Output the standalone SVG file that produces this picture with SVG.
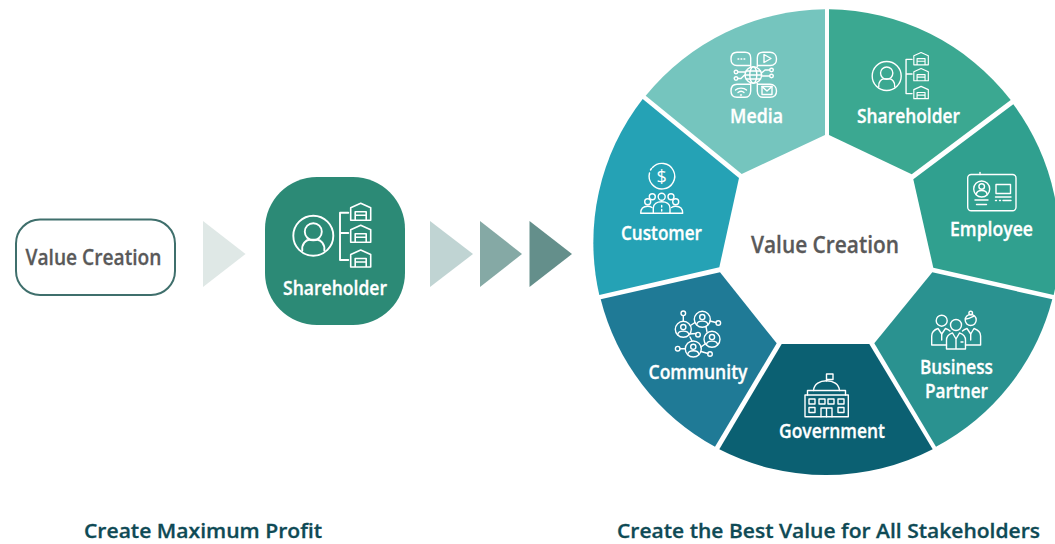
<svg xmlns="http://www.w3.org/2000/svg" width="1055" height="544" viewBox="0 0 1055 544">
<style>
text{font-family:"Open Sans","Noto Sans","Liberation Sans",sans-serif;font-weight:600;text-anchor:middle;stroke-width:.3}
.w{fill:#fff;stroke:#fff;font-size:19px}
.d{fill:#595959;stroke:#595959;font-size:22px}
.b{fill:#0e4a55;stroke:#0e4a55;font-size:20.400px}
.i{fill:none;stroke:#fff;stroke-width:1.900;stroke-linejoin:round;stroke-linecap:round}
.th{stroke-width:1.400}
</style>
<defs>
<symbol id="wh" overflow="visible"><path stroke-width="1.600" d="M0,4.500L10,0L20,4.500V17H0ZM4.500,17V8.500H15.500V17M4.500,12H15.500"/></symbol>
<g id="holder">
<circle cx="0" cy="0" r="20"/><circle cx="0" cy="-4" r="8.500"/>
<path d="M-11,15C-12,8-7,4-4,4H4C7,4 12,8 11,15"/>
<path d="M35,-23H26.700V24.300H35M26.700,-2.700H35"/>
<use href="#wh" x="37.400" y="-32.400"/><use href="#wh" x="37.400" y="-10.400"/><use href="#wh" x="37.400" y="14.300"/>
</g>
<g id="cp"><circle r="8"/><circle cy="-2.200" r="2.600"/><path d="M-5.500,5.500C-5.500,2.500-3,1.800 0,1.800C3,1.800 5.500,2.500 5.500,5.500"/></g>
</defs>

<g id="connectors">
<path d="M203,221L245.500,254L203,287Z" fill="#dfe8e6"/>
<path d="M430,221L473,254L430,287Z" fill="#c0d4d3"/>
<path d="M480,221L522,254L480,287Z" fill="#85a9a5"/>
<path d="M529.500,221L572,254L529.500,287Z" fill="#648f8b"/>
</g>

<g id="node-value-creation">
<rect x="16" y="219.500" width="159" height="75.500" rx="24" fill="#fff" stroke="#3f6f6c" stroke-width="2"/>
<text class="d" x="93.500" y="265" textLength="136" lengthAdjust="spacingAndGlyphs">Value Creation</text>
</g>

<g id="node-shareholder-left">
<rect x="265" y="177" width="140" height="148" rx="52" fill="#2c8a76"/>
<use href="#holder" class="i" transform="translate(313.300,235.700)"/>
<text class="w" x="335" y="294.500" textLength="104" lengthAdjust="spacingAndGlyphs">Shareholder</text>
</g>

<g id="node-wheel-shareholder">
<path d="M829,9.300A233.500,233.500 0 0 1 1010.700,100L911.700,174.300L829,135Z" fill="#3ba891"/>
<use href="#holder" class="i" transform="translate(886.700,76) scale(.725)"/>
<text class="w" x="908.500" y="122.500" textLength="103" lengthAdjust="spacingAndGlyphs">Shareholder</text>
</g>

<g id="node-employee">
<path d="M1013.300,104.300A233.500,233.500 0 0 1 1053.700,295L933.300,267.700L913.300,179.300Z" fill="#30a08f"/>
<g class="i th">
<rect x="967.700" y="174.500" width="48.300" height="36.200" rx="3.500"/>
<path d="M980,172.500V174.500"/>
<circle cx="981.700" cy="189" r="8"/><circle cx="981.700" cy="186.500" r="2.800"/>
<path d="M976.300,194.500C976.500,191.500 979,190.500 981.700,190.500C984.400,190.500 986.900,191.500 987.100,194.500"/>
<path d="M975,200H988M976.500,204.500H986.500"/>
<rect x="996" y="184.500" width="14.500" height="9"/>
<path d="M995.500,197H1011M995.500,200.500H996.500M999.500,200.500H1000.500M1003,200.500H1011"/>
</g>
<text class="w" x="991.500" y="235.500" textLength="83" lengthAdjust="spacingAndGlyphs">Employee</text>
</g>

<g id="node-business-partner">
<path d="M932.300,272.300L1052.300,299.300A233.500,233.500 0 0 1 936,446.700L874.300,343.300Z" fill="#2a9290"/>
<g class="i th">
<circle cx="941.700" cy="320.700" r="5.500"/><circle cx="956" cy="325" r="5.500"/><circle cx="970.700" cy="320" r="5.500"/><circle cx="970.700" cy="313" r="1.800"/>
<path d="M966,319C969,319 972,317 974,316"/>
<path d="M946.500,345H931.700V336C931.700,331 935,329.500 938,328.500L941.700,334L945.500,328.500C947,329 948.500,329.500 950,331"/>
<path d="M946.500,349V340C946.500,335 950,334 952.500,333L956,339L959.500,333C962,334 965.500,335 965.500,340V349ZM956,339V349M961,342H963"/>
<path d="M965.500,345H980.600V336C980.600,331 977,329.500 974,328.500L970.700,334L967,328.500C965.500,329 964,329.500 962.500,331"/>
<path d="M941.700,334V340M970.700,334V340"/>
</g>
<text class="w" x="956.500" y="374" textLength="73" lengthAdjust="spacingAndGlyphs">Business</text>
<text class="w" x="956.500" y="398" textLength="63" lengthAdjust="spacingAndGlyphs">Partner</text>
</g>

<g id="node-government">
<path d="M781.700,344H869.300L932.700,449.300A233.500,233.500 0 0 1 719.300,449.300Z" fill="#0b6072"/>
<g class="i th">
<path d="M826.500,381V374H833V379.500H826.500"/>
<path d="M813.500,390.500C814,384 820,380.700 826.500,380.700C833,380.700 839,384 839.500,390.500"/>
<path d="M807.500,395V390.500H845.500V395"/>
<rect x="805" y="395" width="43.300" height="21.700"/>
<rect x="809" y="399" width="6" height="5"/><rect x="809" y="407.500" width="6" height="5"/>
<rect x="819" y="399" width="6" height="5"/><rect x="828" y="399" width="6" height="5"/>
<rect x="838" y="399" width="6" height="5"/><rect x="838" y="407.500" width="6" height="5"/>
<path d="M821,416.700V408H832V416.700M826.500,408V416.700"/>
</g>
<text class="w" x="832" y="438" textLength="106" lengthAdjust="spacingAndGlyphs">Government</text>
</g>

<g id="node-community">
<path d="M720,272.300L776.700,343.300L715,446.700A233.500,233.500 0 0 1 600.700,299.300Z" fill="#1f7a96"/>
<g class="i th">
<use href="#cp" transform="translate(683.300,329.300)"/><use href="#cp" transform="translate(702.300,319.300)"/>
<use href="#cp" transform="translate(712,339.300)"/><use href="#cp" transform="translate(693.300,349)"/>
<circle cx="683.300" cy="313.300" r="2.300"/><circle cx="718.300" cy="323" r="2.300"/><circle cx="698" cy="334.700" r="2.300"/><circle cx="677.700" cy="348.700" r="2.300"/><circle cx="710" cy="354" r="2.300"/>
<path d="M683.300,315.600V321.300M690.500,325.500L695,322.500M710,321L716,322.500M689.500,334L696,333.500M680,348.800H685.300M701,351.500L708,353.500M707,332L706,326.500M690,337L692,341M701,347L705,344"/>
</g>
<text class="w" x="698" y="379" textLength="99" lengthAdjust="spacingAndGlyphs">Community</text>
</g>

<g id="node-customer">
<path d="M642.700,99L739,178L719.300,267.300L599.300,295A233.500,233.500 0 0 1 642.700,99Z" fill="#25a2b5"/>
<g class="i th">
<path d="M652.500,167.500A12.800,12.800 0 1 1 649.500,173M651.500,168.500L650.500,170"/>
<circle cx="647.700" cy="201.700" r="3"/><circle cx="675.700" cy="201.700" r="3"/><circle cx="661.700" cy="196.700" r="3.500"/><circle cx="652.300" cy="196.700" r="3"/><circle cx="671" cy="196.700" r="3"/>
<path d="M653.300,213.300H640.700C640.700,208.500 643.500,206.300 647.700,206.300C649,206.300 650.500,206.500 652,207.500"/>
<path d="M670,213.300H682.700C682.700,208.500 680,206.300 675.700,206.300C674.500,206.300 673,206.500 671.500,207.500"/>
<path d="M653.300,213.300V208C653.300,204 657,201.700 661.700,201.700C666.500,201.700 670,204 670,208V213.300ZM661.700,205.500V207M661.700,209.500V211"/>
</g>
<text x="661.700" y="183" fill="#fff" style="font-size:18px;font-weight:400">$</text>
<text class="w" x="661.500" y="240" textLength="81" lengthAdjust="spacingAndGlyphs">Customer</text>
</g>

<g id="node-media">
<path d="M825,9.300V135L741.700,174L645.700,95.700A233.500,233.500 0 0 1 825,9.300Z" fill="#75c5be"/>
<g class="i th">
<circle cx="753.300" cy="75" r="8.300"/><ellipse cx="753.300" cy="75" rx="3.500" ry="8.300"/><path d="M745,75H761.600M746,71H760.600M746,79H760.600"/>
<path d="M750.700,66.500V58C750.700,54 748,52.300 745,52.300H737C733,52.300 731,55 731,59C731,63 733,65.500 737,65.500H750.700"/>
<path d="M757.300,66.500V58C757.300,54 760,52.300 763,52.300H770C774,52.300 776.500,55 776.500,59C776.500,63 774,65.500 770,65.500H757.300"/>
<path d="M750.700,83.500V91C750.700,95 748,97.300 745,97.300H737C733,97.300 731,95 731,91C731,87 733,84.300 737,84.300H750.700"/>
<path d="M757.300,83.500V91C757.300,95 760,97.300 763,97.300H770C774,97.300 776.500,95 776.500,91C776.500,87 774,84.300 770,84.300H757.300"/>
<path d="M738,59H738.800M741,59H741.800M744,59H744.800"/>
<path d="M764,54.500V62.500L771,58.500Z"/>
<path d="M735.500,90C738,87.500 744,87.500 746.500,90M738,92.500C740,91 742.500,91 744,92.500M740.500,95H741.500"/>
<rect x="762" y="86.500" width="10" height="8"/><path d="M762,86.500L767,91L772,86.500"/>
<circle cx="736" cy="72" r="1.800"/><circle cx="736" cy="78.500" r="1.800"/><circle cx="771.500" cy="70" r="1.800"/><circle cx="771.500" cy="76" r="1.800"/>
<path d="M738,72H745M738,78.500H741L744,75.500H745M761.500,73L765,70H769.500M762,76H769.500"/>
</g>
<text class="w" x="756.500" y="122.500" textLength="53" lengthAdjust="spacingAndGlyphs">Media</text>
</g>

<g id="node-center">
<text class="d" x="825" y="253" textLength="148" lengthAdjust="spacingAndGlyphs" style="font-size:23px">Value Creation</text>
</g>

<g id="captions">
<text class="b" x="203" y="538" textLength="238" lengthAdjust="spacingAndGlyphs">Create Maximum Profit</text>
<text class="b" x="828.500" y="538" textLength="423" lengthAdjust="spacingAndGlyphs">Create the Best Value for All Stakeholders</text>
</g>
</svg>
